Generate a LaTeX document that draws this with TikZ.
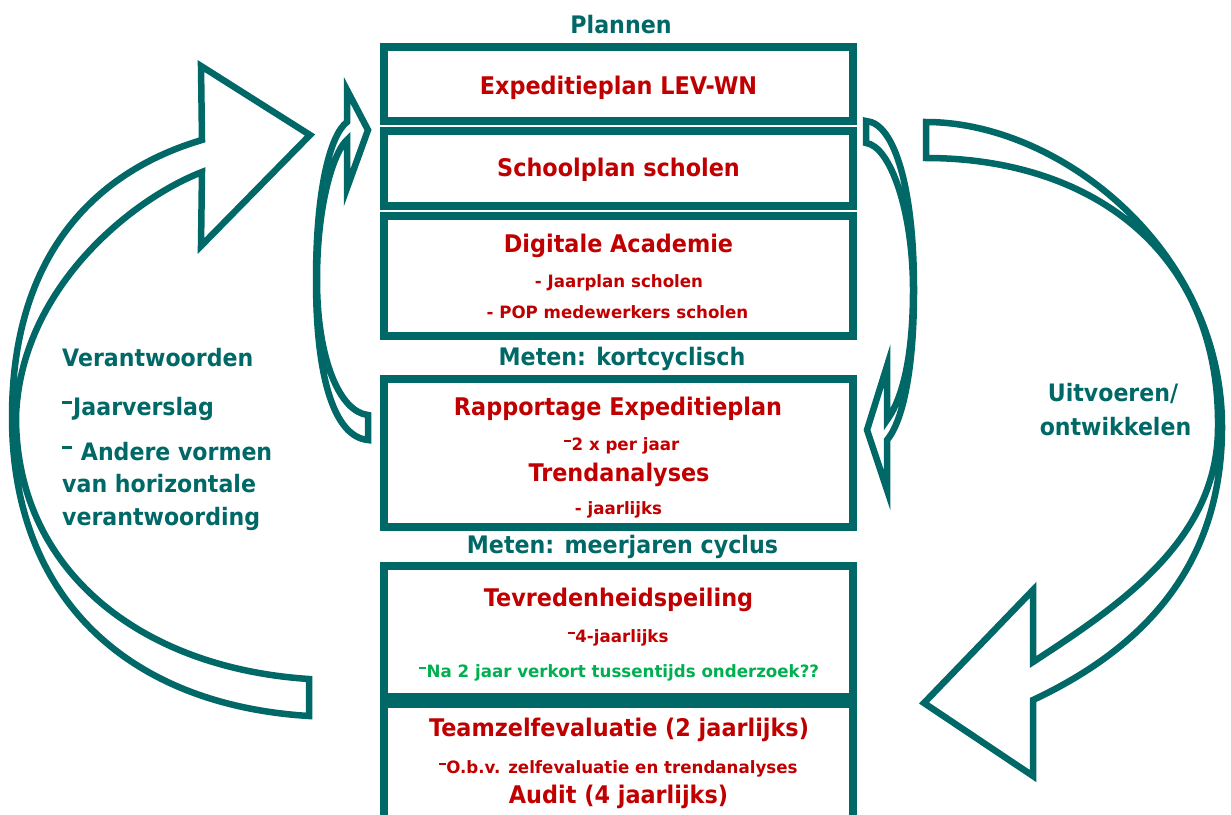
\documentclass[tikz,border=0pt]{standalone}
\usepackage{fontspec}
\setmainfont{DejaVu Sans}[FakeStretch=0.92]
\newfontfamily\smallfam{DejaVu Sans}[FakeStretch=0.98]
\definecolor{tealc}{RGB}{0,104,102}
\definecolor{redc}{RGB}{192,0,0}
\definecolor{greenc}{RGB}{0,176,80}
\newcommand{\rdash}{\rule[0.46em]{0.42em}{0.13em}\kern0.04em}
\tikzset{
  boxline/.style={draw=tealc, line width=8pt},
  arrowshape/.style={draw=tealc, fill=white, line width=6.5pt, line join=miter, miter limit=20},
  titletxt/.style={font=\bfseries\fontsize{24.3}{28}\selectfont, text=redc, anchor=base, inner sep=0pt},
  subtxt/.style={font=\smallfam\bfseries\fontsize{17}{20}\selectfont, text=redc, anchor=base, inner sep=0pt},
  headlbl/.style={font=\bfseries\fontsize{24.1}{28}\selectfont, text=tealc, anchor=base, inner sep=0pt},
  sidetxt/.style={font=\bfseries\fontsize{24}{28}\selectfont, text=tealc, inner sep=0pt}
}
\begin{document}
\begin{tikzpicture}[x=1pt,y=-1pt]
\useasboundingbox (0,0) rectangle (1231,814);
\clip (0,0) rectangle (1231,814);

% big left arrow
\draw[arrowshape] (309,716) .. controls (130,705) and (12,600) .. (12,417)
  .. controls (12,250) and (100,170) .. (202,140)
  -- (201,66) -- (310,135) -- (201,246) -- (202,172)
  .. controls (130,200) and (20,290) .. (16,417)
  .. controls (16,570) and (140,668) .. (309,679) -- cycle;

% big right arrow
\draw[arrowshape] (926,122) .. controls (1060,122) and (1222,250) .. (1222,427)
  .. controls (1222,560) and (1150,645) .. (1033,700)
  -- (1033,776) -- (924,703) -- (1033,590) -- (1033,662)
  .. controls (1120,605) and (1218,540) .. (1218,427)
  .. controls (1220,250) and (1090,158) .. (926,158) -- cycle;

% small left arrow
\draw[arrowshape] (368,440) .. controls (335,437) and (316,380) .. (316,280)
  .. controls (316,190) and (330,135) .. (347,122)
  -- (347,90) -- (368,130) -- (347,188) -- (347,140)
  .. controls (335,150) and (317,200) .. (317,280)
  .. controls (317,360) and (340,412) .. (368,415) -- cycle;

% small right arrow
\draw[arrowshape] (866,121) .. controls (895,123) and (914,190) .. (914,290)
  .. controls (914,380) and (900,425) .. (887,440)
  -- (887,490) -- (867,430) -- (887,366) -- (887,420)
  .. controls (898,405) and (913,370) .. (913,290)
  .. controls (913,210) and (890,146) .. (866,143) -- cycle;

% boxes
\draw[boxline] (384,47) rectangle (853,121);
\draw[boxline] (384,131) rectangle (853,206);
\draw[boxline] (384,216) rectangle (853,336);
\draw[boxline] (384,379) rectangle (853,527);
\draw[boxline] (384,566) rectangle (853,697);
\draw[boxline] (384,704) rectangle (853,830);

% texts
\node[headlbl] (plannen) at (621,33) {Plannen};
\node[titletxt] (t1) at (618.5,94) {Expeditieplan LEV-WN};
\node[titletxt] (t2) at (618.5,176) {Schoolplan scholen};
\node[titletxt] (t3) at (618.5,252) {Digitale Academie};
\node[subtxt] (t3a) at (619,287) {- Jaarplan scholen};
\node[subtxt] (t3b) at (617.5,318) {- POP medewerkers scholen};
\node[headlbl] (kort) at (622,365) {Meten: kortcyclisch};
\node[titletxt] (t4) at (618,415) {Rapportage Expeditieplan};
\node[subtxt] (t4a) at (621.5,450) {\rdash2 x per jaar};
\node[titletxt] (t4b) at (619,481) {Trendanalyses};
\node[subtxt] (t4c) at (618.5,514) {- jaarlijks};
\node[headlbl] (meer) at (622.5,553) {Meten: meerjaren cyclus};
\node[titletxt] (t5) at (618.5,606) {Tevredenheidspeiling};
\node[subtxt] (t5a) at (618,642) {\rdash4-jaarlijks};
\node[subtxt, text=greenc] (t5b) at (619,677) {\rdash Na 2 jaar verkort tussentijds onderzoek??};
\node[titletxt] (t6) at (619,736) {Teamzelfevaluatie (2 jaarlijks)};
\node[subtxt] (t6a) at (618,773) {\rdash O.b.v. zelfevaluatie en trendanalyses};
\node[titletxt] (t6b) at (618.5,803) {Audit (4 jaarlijks)};

\node[sidetxt, anchor=base west] (v1) at (62,366) {Verantwoorden};
\node[sidetxt, anchor=base west] (v2) at (62,415) {\rdash Jaarverslag};
\node[sidetxt, anchor=base west] (v3) at (62,460) {\rdash\ Andere vormen};
\node[sidetxt, anchor=base west] (v4) at (62,492) {van horizontale};
\node[sidetxt, anchor=base west] (v5) at (62,525) {verantwoording};

\node[sidetxt, anchor=base] (u1) at (1113,401) {Uitvoeren/};
\node[sidetxt, anchor=base] (u2) at (1115.5,435) {ontwikkelen};
\end{tikzpicture}
\end{document}
